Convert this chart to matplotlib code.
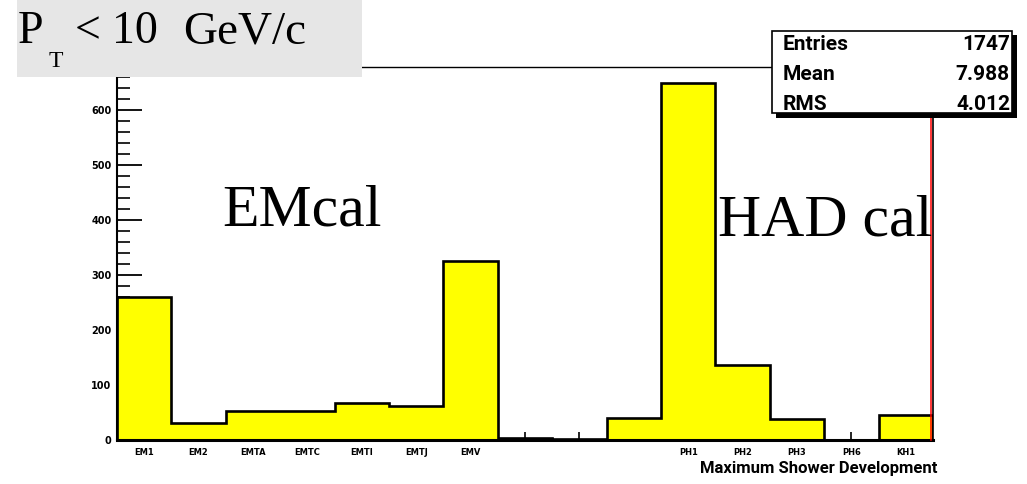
"""Maximum shower development histogram, ROOT style, for P_T < 10 GeV/c."""
import numpy as np
import matplotlib
matplotlib.use("Agg")
import matplotlib.pyplot as plt  # noqa: E402
import matplotlib.transforms as mtransforms  # noqa: E402
from matplotlib.patches import Rectangle  # noqa: E402
from matplotlib.ticker import MultipleLocator  # noqa: E402

bin_labels = ["EM1", "EM2", "EMTA", "EMTC", "EMTI", "EMTJ", "EMV", "", "", "",
              "PH1", "PH2", "PH3", "PH6", "KH1"]
counts = [260, 31, 53, 53, 67, 62, 325, 4, 1, 40, 649, 136, 38, 0, 45]
y_ticks = [0, 100, 200, 300, 400, 500, 600]
stat_names = ["Entries", "Mean", "RMS"]
stat_values = ["1747", "7.988", "4.012"]

NARROW = ["Roboto", "DejaVu Sans"]
SERIF = ["Liberation Serif", "DejaVu Serif"]
W, H = 1027, 484


def fx(px):
    return px / W


def fy(py):
    return 1 - py / H


def main():
    fig = plt.figure(figsize=(W / 100, H / 100), dpi=100)
    ax = fig.add_axes([fx(117), fy(440), (933 - 117) / W, (440 - 67) / H])

    centers = np.arange(1, len(counts) + 1)
    edges = np.arange(0.5, len(counts) + 1)
    ax.stairs(counts, edges, fill=True, color="#ffff00", zorder=2)
    ax.stairs(counts, edges, baseline=0, color="black", lw=1.9, zorder=3)
    ax.set_xlim(edges[0], edges[-1])
    ax.set_ylim(0, 678)

    # red marker line hugging the right edge of the frame
    trans = ax.get_xaxis_transform() + mtransforms.ScaledTranslation(-0.022, 0, fig.dpi_scale_trans)
    ax.plot([edges[-1], edges[-1]], [0, 1], color="red", lw=1.1, transform=trans, zorder=5,
            clip_on=False)

    ax.spines["left"].set_linewidth(1.5)
    ax.spines["bottom"].set_linewidth(2.2)
    ax.spines["top"].set_linewidth(1.0)
    ax.spines["right"].set_linewidth(1.2)

    ax.set_xticks(centers, bin_labels)
    ax.tick_params(axis="x", direction="in", length=6, width=1.2, pad=6, labelsize=6)
    ax.set_yticks(y_ticks)
    ax.yaxis.set_minor_locator(MultipleLocator(20))
    ax.tick_params(axis="y", which="major", direction="in", length=18, width=1.3, pad=4,
                   labelsize=7)
    ax.tick_params(axis="y", which="minor", direction="in", length=9, width=1.2)
    for lab in ax.get_xticklabels() + ax.get_yticklabels():
        lab.set_fontfamily("DejaVu Sans")
        lab.set_fontweight("bold")

    ax.set_xlabel("Maximum Shower Development", loc="right", fontsize=12, fontweight="bold",
                  family=NARROW)
    ax.xaxis.set_label_coords((937 - 117) / (933 - 117), -(461 - 440) / (440 - 67))

    # title pad
    fig.add_artist(Rectangle((fx(17), fy(77)), (362 - 17) / W, 77 / H, transform=fig.transFigure,
                             fc="#e6e6e6", ec="none", zorder=4))
    fig.text(fx(18), fy(43), "P", family=SERIF, size=33, va="baseline", zorder=5)
    fig.text(fx(49), fy(67), "T", family=SERIF, size=17, va="baseline", zorder=5)
    fig.text(fx(75), fy(43), "<", family=SERIF, size=33, va="baseline", zorder=5)
    fig.text(fx(112), fy(43), "10", family=SERIF, size=33, va="baseline", zorder=5)
    fig.text(fx(183), fy(43), "GeV/c", family=SERIF, size=34, va="baseline", zorder=5)

    # stats box with shadow
    fig.add_artist(Rectangle((fx(776), fy(118)), (1017 - 776) / W, (118 - 35) / H,
                             transform=fig.transFigure, fc="black", ec="none", zorder=4))
    fig.add_artist(Rectangle((fx(772), fy(113)), (1012 - 772) / W, (113 - 31) / H,
                             transform=fig.transFigure, fc="white", ec="black", lw=1.2, zorder=4))
    for i, (name, val) in enumerate(zip(stat_names, stat_values)):
        base = 50 + 30 * i
        fig.text(fx(783), fy(base), name, family=NARROW, size=15, fontweight="bold",
                 va="baseline", zorder=5)
        fig.text(fx(1010), fy(base), val, family=NARROW, size=15, fontweight="bold",
                 va="baseline", ha="right", zorder=5)

    fig.text(fx(222), fy(225), "EMcal", family=SERIF, size=43, va="baseline", zorder=5)
    fig.text(fx(718), fy(235), "HAD cal", family=SERIF, size=43, va="baseline", zorder=5)

    fig.savefig("out.png", dpi=100)


if __name__ == "__main__":
    main()
